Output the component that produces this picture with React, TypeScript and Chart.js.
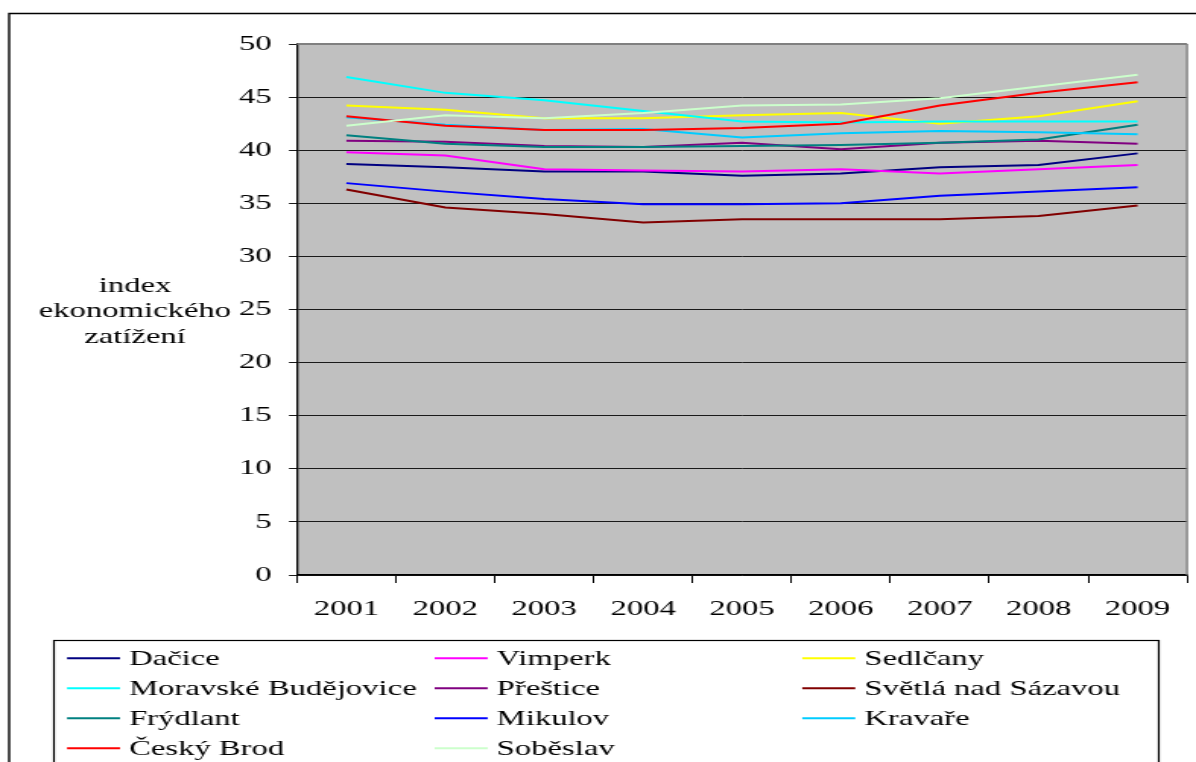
import { useEffect, useRef } from 'react';
import { Chart, registerables } from 'chart.js';

Chart.register(...registerables);

// Horizontal stretch applied to the whole drawing (the chart is laid out narrow, then widened).
const STRETCH = 1196 / 787;
const LOCAL_W = 787;
const LOCAL_H = 762;
const FONT_FAMILY = '"Liberation Serif", "Times New Roman", serif';

const years = ['2001', '2002', '2003', '2004', '2005', '2006', '2007', '2008', '2009'];

const dacice = [38.7, 38.4, 38.0, 38.0, 37.6, 37.8, 38.4, 38.6, 39.7];
const vimperk = [39.8, 39.5, 38.2, 38.1, 38.0, 38.2, 37.8, 38.2, 38.6];
const sedlcany = [44.2, 43.8, 43.0, 43.0, 43.3, 43.5, 42.5, 43.2, 44.6];
const moravskeBudejovice = [46.9, 45.4, 44.7, 43.7, 42.7, 42.6, 42.7, 42.7, 42.7];
const prestice = [40.9, 40.8, 40.4, 40.3, 40.7, 40.1, 40.7, 40.9, 40.6];
const svetlaNadSazavou = [36.3, 34.6, 34.0, 33.2, 33.5, 33.5, 33.5, 33.8, 34.8];
const frydlant = [41.4, 40.6, 40.3, 40.3, 40.4, 40.5, 40.7, 41.0, 42.4];
const mikulov = [36.9, 36.1, 35.4, 34.9, 34.9, 35.0, 35.7, 36.1, 36.5];
const kravare = [43.1, 42.4, 41.9, 42.0, 41.2, 41.6, 41.8, 41.7, 41.5];
const ceskyBrod = [43.2, 42.3, 41.9, 41.9, 42.1, 42.5, 44.2, 45.4, 46.4];
const sobeslav = [42.3, 43.3, 43.0, 43.5, 44.2, 44.3, 44.9, 46.0, 47.1];

const seriesLabels = [
  'Dačice', 'Vimperk', 'Sedlčany',
  'Moravské Budějovice', 'Přeštice', 'Světlá nad Sázavou',
  'Frýdlant', 'Mikulov', 'Kravaře',
  'Český Brod', 'Soběslav',
];
const seriesValues = [
  dacice, vimperk, sedlcany,
  moravskeBudejovice, prestice, svetlaNadSazavou,
  frydlant, mikulov, kravare,
  ceskyBrod, sobeslav,
];
const seriesColors = [
  '#000080', '#ff00ff', '#ffff00',
  '#00ffff', '#800080', '#800000',
  '#008080', '#0000ff', '#00ccff',
  '#ff0000', '#ccffcc',
];

const yTitleLines = ['index', 'ekonomického', 'zatížení'];

const decorations = {
  id: 'decorations',
  beforeDraw(chart: any) {
    const { ctx, chartArea: a } = chart;
    ctx.save();
    ctx.fillStyle = '#ffffff';
    ctx.fillRect(0, 0, chart.width, chart.height);
    ctx.fillStyle = '#c0c0c0';
    ctx.fillRect(a.left, a.top, a.right - a.left, a.bottom - a.top);
    // outer chart frame
    ctx.strokeStyle = '#000000';
    ctx.lineWidth = 1.4;
    ctx.beginPath();
    ctx.moveTo(6, chart.height + 5);
    ctx.lineTo(6, 13.5);
    ctx.lineTo(chart.width + 5, 13.5);
    ctx.stroke();
    ctx.restore();
  },
  beforeDatasetsDraw(chart: any) {
    const { ctx, chartArea: a } = chart;
    ctx.save();
    ctx.strokeStyle = '#808080';
    ctx.lineWidth = 2;
    ctx.beginPath();
    ctx.moveTo(a.left, a.top);
    ctx.lineTo(a.right, a.top);
    ctx.stroke();
    ctx.lineWidth = 1.4;
    ctx.beginPath();
    ctx.moveTo(a.right, a.top);
    ctx.lineTo(a.right, a.bottom);
    ctx.stroke();
    ctx.restore();
  },
  afterDraw(chart: any) {
    const { ctx } = chart;
    ctx.save();
    ctx.font = `21.5px ${FONT_FAMILY}`;
    ctx.fillStyle = '#000000';

    // axis title, horizontal, three lines
    ctx.textAlign = 'center';
    ctx.textBaseline = 'alphabetic';
    yTitleLines.forEach((line, i) => {
      ctx.fillText(line, 88.8, 291.5 + i * 25.5);
    });

    // legend box
    ctx.strokeStyle = '#000000';
    ctx.lineWidth = 1.2;
    ctx.strokeRect(35.5, 640.5, 727, 200);

    ctx.textAlign = 'left';
    chart.data.datasets.forEach((ds: any, i: number) => {
      const col = i % 3;
      const row = Math.floor(i / 3);
      const x0 = 44.1 + col * 241.9;
      const yBase = 664.8 + row * 30;
      ctx.strokeStyle = ds.borderColor;
      ctx.lineWidth = 2;
      ctx.beginPath();
      ctx.moveTo(x0, yBase - 6.5);
      ctx.lineTo(x0 + 34.9, yBase - 6.5);
      ctx.stroke();
      ctx.fillStyle = '#000000';
      ctx.fillText(ds.label, x0 + 40.8, yBase);
    });
    ctx.restore();
  },
};

export default function App() {
  const canvasRef = useRef<HTMLCanvasElement | null>(null);

  useEffect(() => {
    if (!canvasRef.current) return;
    const n = seriesLabels.length;
    const tickFont = { family: FONT_FAMILY, size: 21.5 };
    const chart = new Chart(canvasRef.current, {
      type: 'line',
      data: {
        labels: years,
        datasets: seriesLabels.map((label, i) => ({
          label,
          data: seriesValues[i],
          borderColor: seriesColors[i],
          backgroundColor: seriesColors[i],
          borderWidth: 2,
          pointRadius: 0,
          tension: 0,
          fill: false,
          order: n - i,
        })),
      },
      options: {
        animation: false,
        responsive: true,
        maintainAspectRatio: false,
        layout: { padding: { left: 0, top: 44, right: LOCAL_W - 781.1, bottom: 137 } },
        plugins: {
          legend: { display: false },
          tooltip: { enabled: false },
        },
        scales: {
          x: {
            type: 'category',
            offset: true,
            grid: {
              offset: true,
              drawOnChartArea: false,
              drawTicks: true,
              tickLength: 8,
              color: '#000000',
              lineWidth: 1,
            },
            border: { display: true, color: '#000000', width: 1.5 },
            ticks: { font: tickFont, color: '#000000', padding: 13, maxRotation: 0, autoSkip: false },
            afterFit: (s: any) => { s.height = 50; },
          },
          y: {
            min: 0,
            max: 50,
            ticks: { stepSize: 5, font: tickFont, color: '#000000', padding: 11.3 },
            grid: { color: '#1a1a1a', lineWidth: 1, tickLength: 5.3 },
            border: { display: true, color: '#000000', width: 1.3 },
            afterFit: (s: any) => { s.width = 195.4; },
          },
        },
      },
      plugins: [decorations],
    } as any);
    return () => chart.destroy();
  }, []);

  return (
    <div
      style={{
        position: 'absolute',
        left: 0,
        top: 0,
        width: 1196,
        height: 762,
        overflow: 'hidden',
        background: '#ffffff',
      }}
    >
      <div
        style={{
          position: 'relative',
          width: LOCAL_W,
          height: LOCAL_H,
          transform: `scaleX(${STRETCH})`,
          transformOrigin: '0 0',
        }}
      >
        <canvas ref={canvasRef} />
      </div>
    </div>
  );
}
